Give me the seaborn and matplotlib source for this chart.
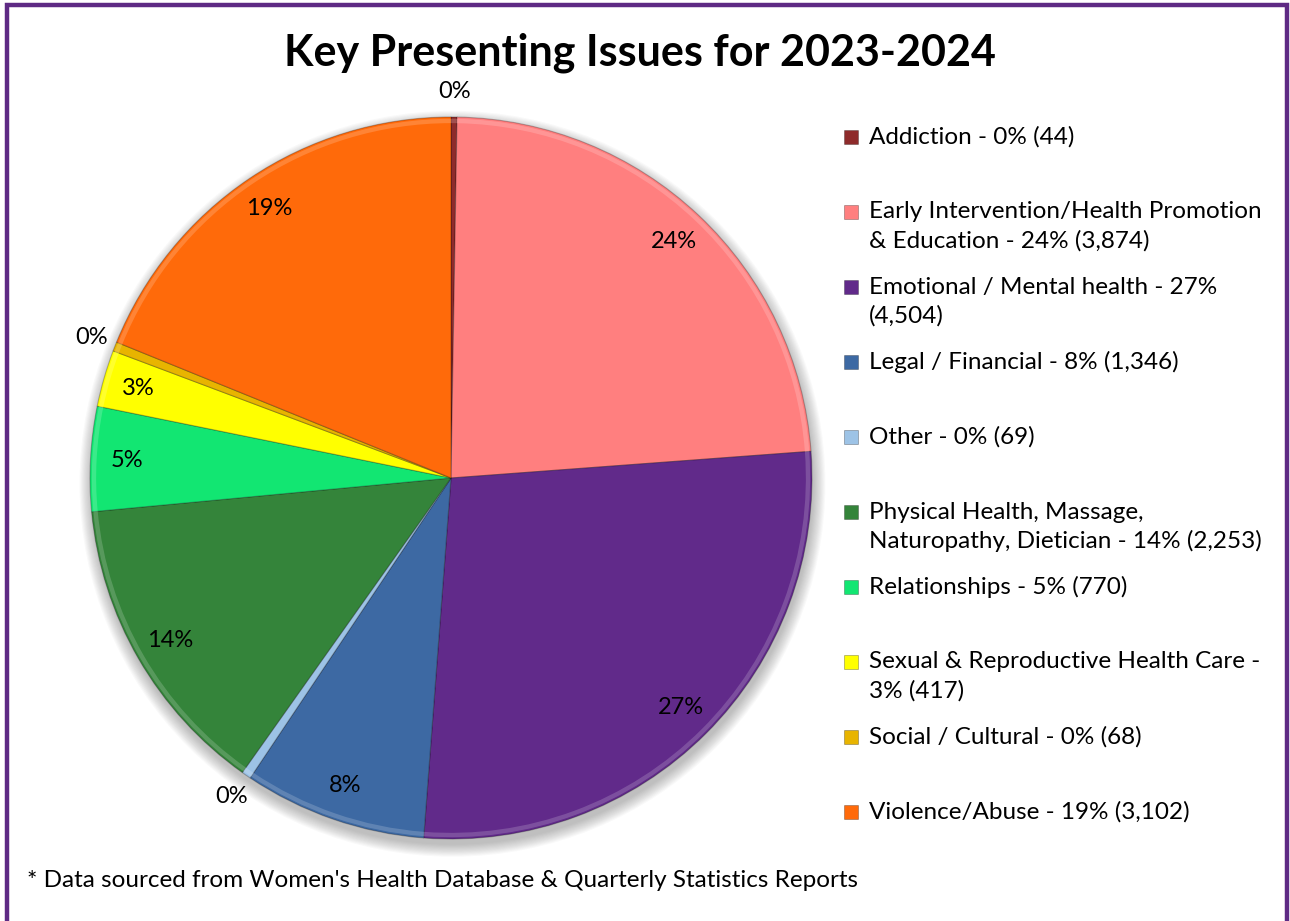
import matplotlib
matplotlib.use("Agg")
import matplotlib.pyplot as plt
from matplotlib.patches import Rectangle, Circle, Wedge
import seaborn as sns
import numpy as np

# Presenting issues, 2023-2024
categories = [
    "Addiction",
    "Early Intervention/Health Promotion & Education",
    "Emotional / Mental health",
    "Legal / Financial",
    "Other",
    "Physical Health, Massage, Naturopathy, Dietician",
    "Relationships",
    "Sexual & Reproductive Health Care",
    "Social / Cultural",
    "Violence/Abuse",
]
counts = [44, 3874, 4504, 1346, 69, 2253, 770, 417, 68, 3102]
colors = ["#8E2B2B", "#FF7F7F", "#612A8A", "#3D69A3", "#9DC3E6",
          "#34843A", "#12E672", "#FFFF00", "#E8B400", "#FF6A0A"]
legend_labels = [
    "Addiction - 0% (44)",
    "Early Intervention/Health Promotion\n& Education - 24% (3,874)",
    "Emotional / Mental health - 27%\n(4,504)",
    "Legal / Financial - 8% (1,346)",
    "Other - 0% (69)",
    "Physical Health, Massage,\nNaturopathy, Dietician - 14% (2,253)",
    "Relationships - 5% (770)",
    "Sexual & Reproductive Health Care -\n3% (417)",
    "Social / Cultural - 0% (68)",
    "Violence/Abuse - 19% (3,102)",
]
title = "Key Presenting Issues for 2023-2024"
footnote = "* Data sourced from Women's Health Database & Quarterly Statistics Reports"

sns.set_theme(style="white")
plt.rcParams["font.family"] = ["Lato", "DejaVu Sans"]

W, H = 1290, 921
fig = plt.figure(figsize=(W / 100, H / 100), dpi=100)
fig.patch.set_facecolor("white")

# Pie axes: centre (451, 478) px, radius 361 px
cx, cy, r = 451, 478, 361
ax = fig.add_axes([(cx - r) / W, (H - cy - r) / H, 2 * r / W, 2 * r / H])
ax.axis("off")

total = sum(counts)
wedges, texts, autotexts = ax.pie(
    counts, colors=colors, startangle=90, counterclock=False, radius=1.0,
    autopct=lambda p: f"{p:.0f}%", pctdistance=0.9,
    wedgeprops=dict(edgecolor=(0, 0, 0, 0.25), linewidth=0.8),
    textprops=dict(fontsize=17, color="black"),
)
ax.set_xlim(-1, 1)
ax.set_ylim(-1, 1)
ax.set_aspect("equal")
for w in wedges:
    w.set_zorder(2)

# soft drop shadow under the pie
for i in range(12):
    ax.add_patch(Circle((0.004, -0.016), 1.0 + 0.003 * i, color="#555555",
                        alpha=0.035, lw=0, zorder=0, clip_on=False))

# tiny slices get their labels outside the rim
for cnt, t in zip(counts, autotexts):
    t.set_zorder(5)
    t.set_clip_on(False)
    if cnt / total < 0.01:
        x, y = t.get_position()
        s = 1.07 / 0.9
        t.set_position((x * s, y * s))

# bevel highlight along each slice's rim
for w, c in zip(wedges, colors):
    rgb = np.array(matplotlib.colors.to_rgb(c))
    light = tuple(np.clip(rgb + (1 - rgb) * 0.35, 0, 1))
    ax.add_patch(Wedge((0, 0), 0.995, w.theta1, w.theta2, width=0.012,
                       facecolor=light, edgecolor="none", alpha=0.5, zorder=3))

# Title
fig.text(640 / W, 1 - 53 / H, title, ha="center", va="center",
         fontsize=31, fontweight="bold", color="black")

# Legend, drawn entry by entry on a fixed 75 px slot grid
slot0, step = 137, 75
for i, (lab, c) in enumerate(zip(legend_labels, colors)):
    y = slot0 + step * i
    fig.add_artist(Rectangle((844 / W, 1 - (y + 7) / H), 14 / W, 14 / H,
                             transform=fig.transFigure, facecolor=c,
                             edgecolor=(0, 0, 0, 0.3), linewidth=0.6))
    for j, line in enumerate(lab.split("\n")):
        fig.text(869 / W, 1 - (y + 29 * j) / H, line, ha="left", va="center",
                 fontsize=17.5, color="black")

# Footnote
fig.text(27 / W, 1 - 880 / H, footnote, ha="left", va="center",
         fontsize=17.5, color="black")

# Purple frame around the chart
fig.add_artist(Rectangle((6.5 / W, -0.05), (1286.5 - 6.5) / W, 1.05 - 5.5 / H,
                         transform=fig.transFigure, fill=False,
                         edgecolor="#5E2A84", linewidth=3.2))

fig.savefig("out.png", dpi=100)
